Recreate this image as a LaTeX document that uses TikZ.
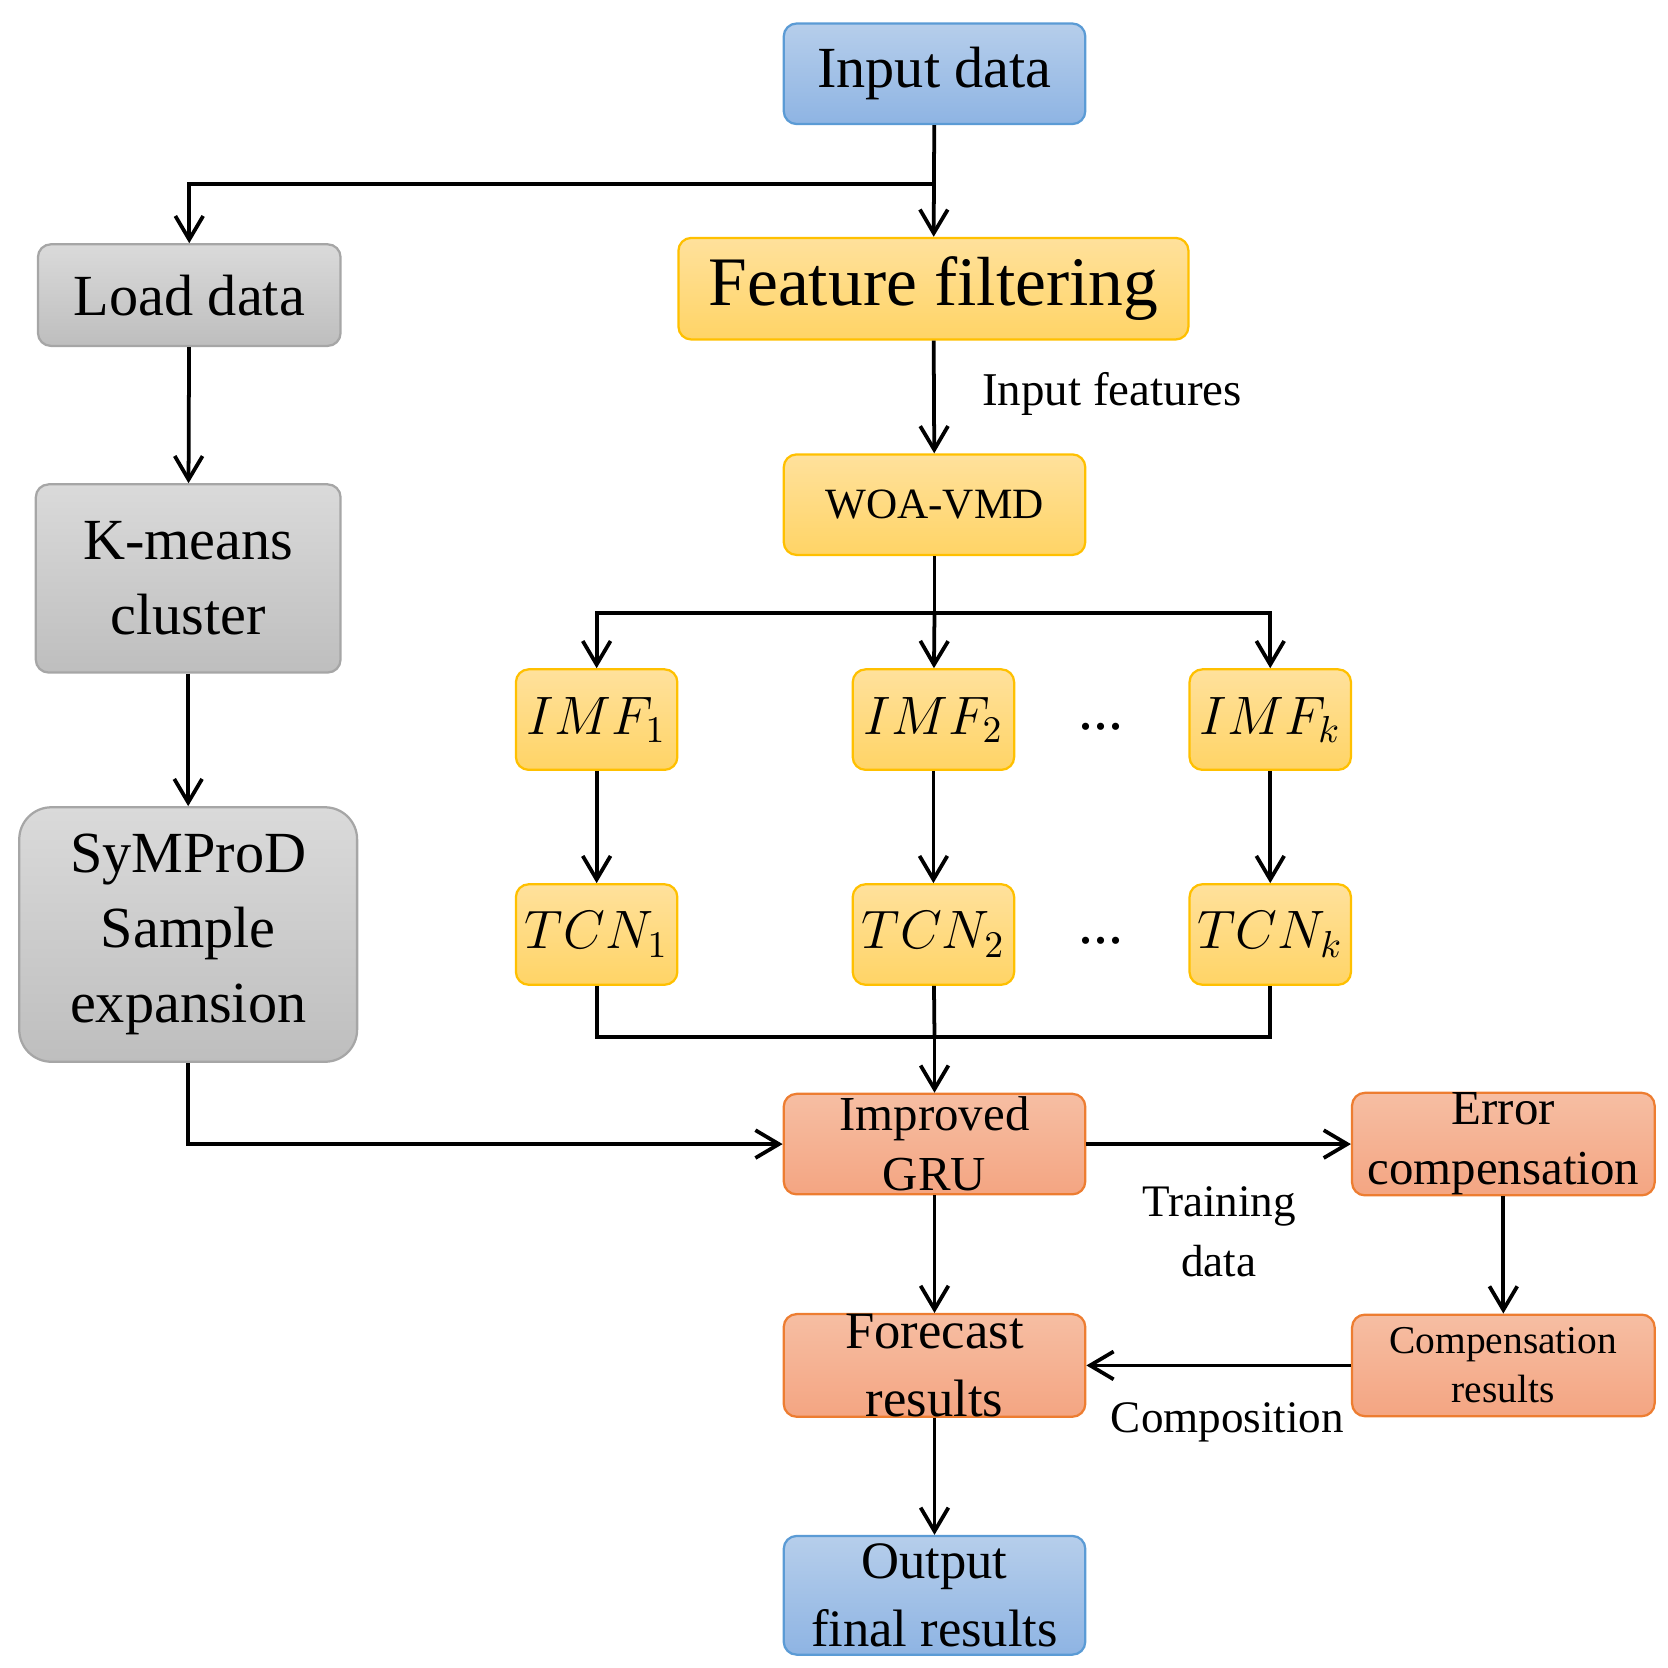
\documentclass[tikz,border=0pt]{standalone}
\usepackage{fontspec}
\setmainfont{Liberation Serif}
\usetikzlibrary{arrows.meta}
\begin{document}
\begin{tikzpicture}[x=0.1mm,y=-0.1mm,
  box/.style={draw,rounded corners=1.2mm,line width=0.6pt,align=center,inner sep=0pt,text height=,},
  blue/.style={box,draw={rgb,255:red,91;green,155;blue,213},top color={rgb,255:red,182;green,206;blue,235},bottom color={rgb,255:red,142;green,180;blue,227}},
  yel/.style={box,draw={rgb,255:red,255;green,192;blue,0},top color={rgb,255:red,255;green,225;blue,156},bottom color={rgb,255:red,255;green,212;blue,102}},
  gray/.style={box,draw={rgb,255:red,166;green,166;blue,166},top color={rgb,255:red,218;green,218;blue,218},bottom color={rgb,255:red,190;green,190;blue,190}},
  ora/.style={box,draw={rgb,255:red,237;green,125;blue,49},top color={rgb,255:red,246;green,190;blue,163},bottom color={rgb,255:red,244;green,165;blue,130}},
  arr/.style={-{Straight Barb[length=2.2mm,width=2.6mm,line width=1pt]},line width=1pt},
  ln/.style={line width=1pt},
  lab/.style={font=\fontsize{12.5}{14}\selectfont,align=center}]
\useasboundingbox (0,0) rectangle (1560,1560);
\node[blue,minimum width=28.2mm,minimum height=9.4mm,font=\fontsize{15.5}{17}\selectfont] (in) at (874,69) {Input data};
\node[gray,minimum width=28.3mm,minimum height=9.5mm,font=\fontsize{15.5}{17}\selectfont] (load) at (177,276) {Load data};
\node[yel,minimum width=47.7mm,minimum height=9.5mm,font=\fontsize{18.5}{20}\selectfont] (ff) at (873,270) {Feature filtering};
\node[yel,minimum width=28.2mm,minimum height=9.4mm,font=\fontsize{11.5}{13}\selectfont] (woa) at (874,472) {WOA-VMD};
\node[gray,minimum width=28.5mm,minimum height=17.6mm,font=\fontsize{15.5}{20}\selectfont] (km) at (176,541) {K-means\\cluster};
\node[gray,rounded corners=3mm,minimum width=31.6mm,minimum height=23.8mm,font=\fontsize{15.5}{20}\selectfont] (sy) at (176,874) {SyMProD\\Sample\\expansion};
\foreach \n/\x/\s in {1/558/1,2/873/2,k/1188/k}{
  \node[yel,minimum width=15.1mm,minimum height=9.4mm,font=\fontsize{14}{16}\selectfont] (imf\n) at (\x,673) {$IMF_{\s}$};
  \node[yel,minimum width=15.1mm,minimum height=9.4mm,font=\fontsize{14}{16}\selectfont] (tcn\n) at (\x,874) {$TCN_{\s}$};
}
\node[font=\fontsize{16}{18}\selectfont] (d1) at (1030,680) {...};
\node[font=\fontsize{16}{18}\selectfont] (d2) at (1030,880) {...};
\node[ora,minimum width=28.2mm,minimum height=9.4mm,font=\fontsize{13}{16}\selectfont] (gru) at (874,1070) {Improved\\GRU};
\node[ora,minimum width=28.3mm,minimum height=9.4mm,font=\fontsize{13}{16}\selectfont] (err) at (1406,1070) {Error\\compensation};
\node[ora,minimum width=28.2mm,minimum height=9.5mm,font=\fontsize{14}{18}\selectfont] (fc) at (874,1277) {Forecast\\results};
\node[ora,minimum width=28.3mm,minimum height=9.5mm,font=\fontsize{10.5}{13}\selectfont] (cr) at (1406,1277) {Compensation\\results};
\node[blue,minimum width=28.2mm,minimum height=11.1mm,font=\fontsize{14}{18}\selectfont] (out) at (874,1492) {Output\\final results};
\node[lab] (l1) at (1040,368) {Input features};
\node[lab,font=\fontsize{12}{16}\selectfont] (l2) at (1140,1152) {Training\\data};
\node[lab,font=\fontsize{12}{14}\selectfont] (l3) at (1148,1330) {Composition};
\coordinate (b1) at (874,172);
\coordinate (b2) at (874,573);
\coordinate (b3) at (874,970);
\draw[arr] (in) -- (ff);
\draw[arr] (b1) -| (load);
\draw[arr] (load) -- (km);
\draw[arr] (km) -- (sy);
\draw[arr] (sy.south) |- (gru.west);
\draw[arr] (ff) -- (woa);
\draw[ln] (woa) -- (b2);
\draw[arr] (b2) -| (imf1);
\draw[arr] (b2) -| (imfk);
\draw[arr] (b2) -- (imf2);
\foreach \n in {1,2,k} \draw[arr] (imf\n) -- (tcn\n);
\draw[ln] (tcn1.south) |- (b3);
\draw[ln] (tcnk.south) |- (b3);
\draw[ln] (tcn2) -- (b3);
\draw[arr] (b3) -- (gru);
\draw[arr] (gru) -- (err);
\draw[arr] (err) -- (cr);
\draw[arr] (cr) -- (fc);
\draw[arr] (gru) -- (fc);
\draw[arr] (fc) -- (out);
\end{tikzpicture}
\end{document}
